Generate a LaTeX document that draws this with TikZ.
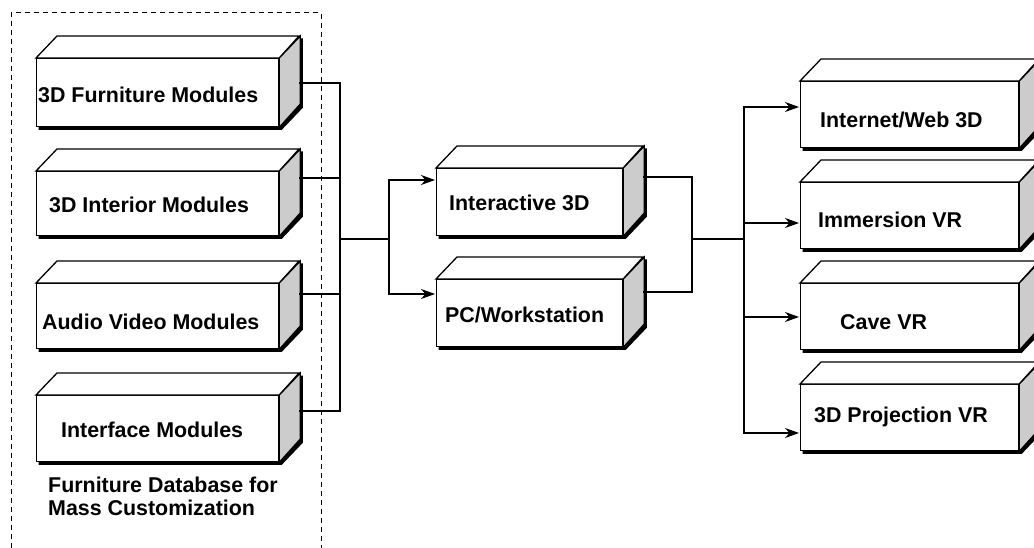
\documentclass[tikz,border=0pt]{standalone}
\usepackage{fontspec}
\setmainfont{Liberation Sans}
\usetikzlibrary{arrows.meta,calc}
\pgfdeclarelayer{background}
\pgfsetlayers{background,main}
\definecolor{sidegray}{RGB}{204,204,204}
\tikzset{
  face/.style={draw, fill=white, line width=1.3pt, inner sep=0pt, anchor=north west},
  edgethree/.style={draw, line width=1.3pt, line join=miter},
  lbl/.style={inner sep=0pt, anchor=base west, font=\fontsize{21.4}{23}\selectfont\bfseries},
  wire/.style={line width=1.2pt},
  arr/.style={wire, -{Stealth[length=14pt,width=10pt,inset=4.5pt]}},
  frame/.style={line width=1pt, dash pattern=on 5pt off 4pt},
}
\newcommand\cubebox[5]{%
  \node[face, minimum width=#4pt, minimum height=#5pt] (#1) at (#2,#3) {};
  \filldraw[edgethree, fill=white] (#1.north west) -- ++(21,-22) -- ++(#4,0) -- (#1.north east) -- cycle;
  \filldraw[edgethree, fill=sidegray] (#1.north east) -- ++(21,-22) -- ++(0,#5) -- (#1.south east) -- cycle;
  \begin{pgfonlayer}{background}
  \fill[black] ([shift={(2.5,2.5)}]#1.north west) -- ([shift={(23.5,-19.5)}]#1.north west) -- ([shift={(23.5,-19.5)}]#1.north east) -- ([shift={(23.5,-19.5)}]#1.south east) -- ([shift={(2.5,2.5)}]#1.south east) -- ([shift={(2.5,2.5)}]#1.south west) -- cycle;
  \end{pgfonlayer}
}
\begin{document}
\begin{tikzpicture}[x=1pt,y=-1pt]
\useasboundingbox (0,0) rectangle (1034,548);
\clip (0,0) rectangle (1034,548);
% dashed frame
\draw[frame] (11,548) -- (11,13) -- (321,13) -- (321,548);
% boxes
\cubebox{fm}{36}{58}{242}{68}
\cubebox{im}{36}{171}{242}{64}
\cubebox{am}{36}{283}{242}{65}
\cubebox{ifm}{36}{395}{242}{66}
\cubebox{i3d}{436}{168}{186}{67}
\cubebox{pcw}{436}{279}{186}{67}
\cubebox{web}{800}{81}{218}{66}
\cubebox{imm}{800}{182}{218}{66}
\cubebox{cave}{800}{283}{218}{66}
\cubebox{proj}{800}{384}{218}{66}
% labels
\node[lbl] (tfm) at (38,103) {3D Furniture Modules};
\node[lbl] (tim) at (49,212.5) {3D Interior Modules};
\node[lbl] (tam) at (42,329.5) {Audio Video Modules};
\node[lbl] (tifm) at (61,437.5) {Interface Modules};
\node[lbl] (tdb1) at (48,492.5) {Furniture Database for};
\node[lbl] (tdb2) at (48,515.5) {Mass Customization};
\node[lbl] (ti3d) at (449,210.5) {Interactive 3D};
\node[lbl] (tpcw) at (445,323) {PC/Workstation};
\node[lbl] (tweb) at (820,127.5) {Internet/Web 3D};
\node[lbl] (timm) at (818,227.5) {Immersion VR};
\node[lbl] (tcave) at (840,329.5) {Cave VR};
\node[lbl] (tproj) at (814,422.5) {3D Projection VR};
% ports and junctions
\coordinate (fmo) at (299,83);
\coordinate (imo) at (299,178);
\coordinate (amo) at (299,294);
\coordinate (ifmo) at (299,411);
\coordinate (jL) at (340,239);
\coordinate (jM) at (389,239);
\coordinate (i3di) at (435,180);
\coordinate (pcwi) at (435,294);
\coordinate (i3do) at (643,177);
\coordinate (pcwo) at (643,292);
\coordinate (jR) at (692,239);
\coordinate (jS) at (744,239);
\coordinate (webi) at (799,107);
\coordinate (immi) at (799,223);
\coordinate (cavei) at (799,317);
\coordinate (proji) at (799,433);
% connectors
\draw[wire] (fmo) -| (jL);
\draw[wire] (imo) -| (jL);
\draw[wire] (amo) -| (jL);
\draw[wire] (ifmo) -| (jL);
\draw[wire] (jL) -- (jM);
\draw[arr] (jM) |- (i3di);
\draw[arr] (jM) |- (pcwi);
\draw[wire] (i3do) -| (jR);
\draw[wire] (pcwo) -| (jR);
\draw[wire] (jR) -- (jS);
\draw[arr] (jS) |- (webi);
\draw[arr] (jS) |- (immi);
\draw[arr] (jS) |- (cavei);
\draw[arr] (jS) |- (proji);
\end{tikzpicture}
\end{document}
